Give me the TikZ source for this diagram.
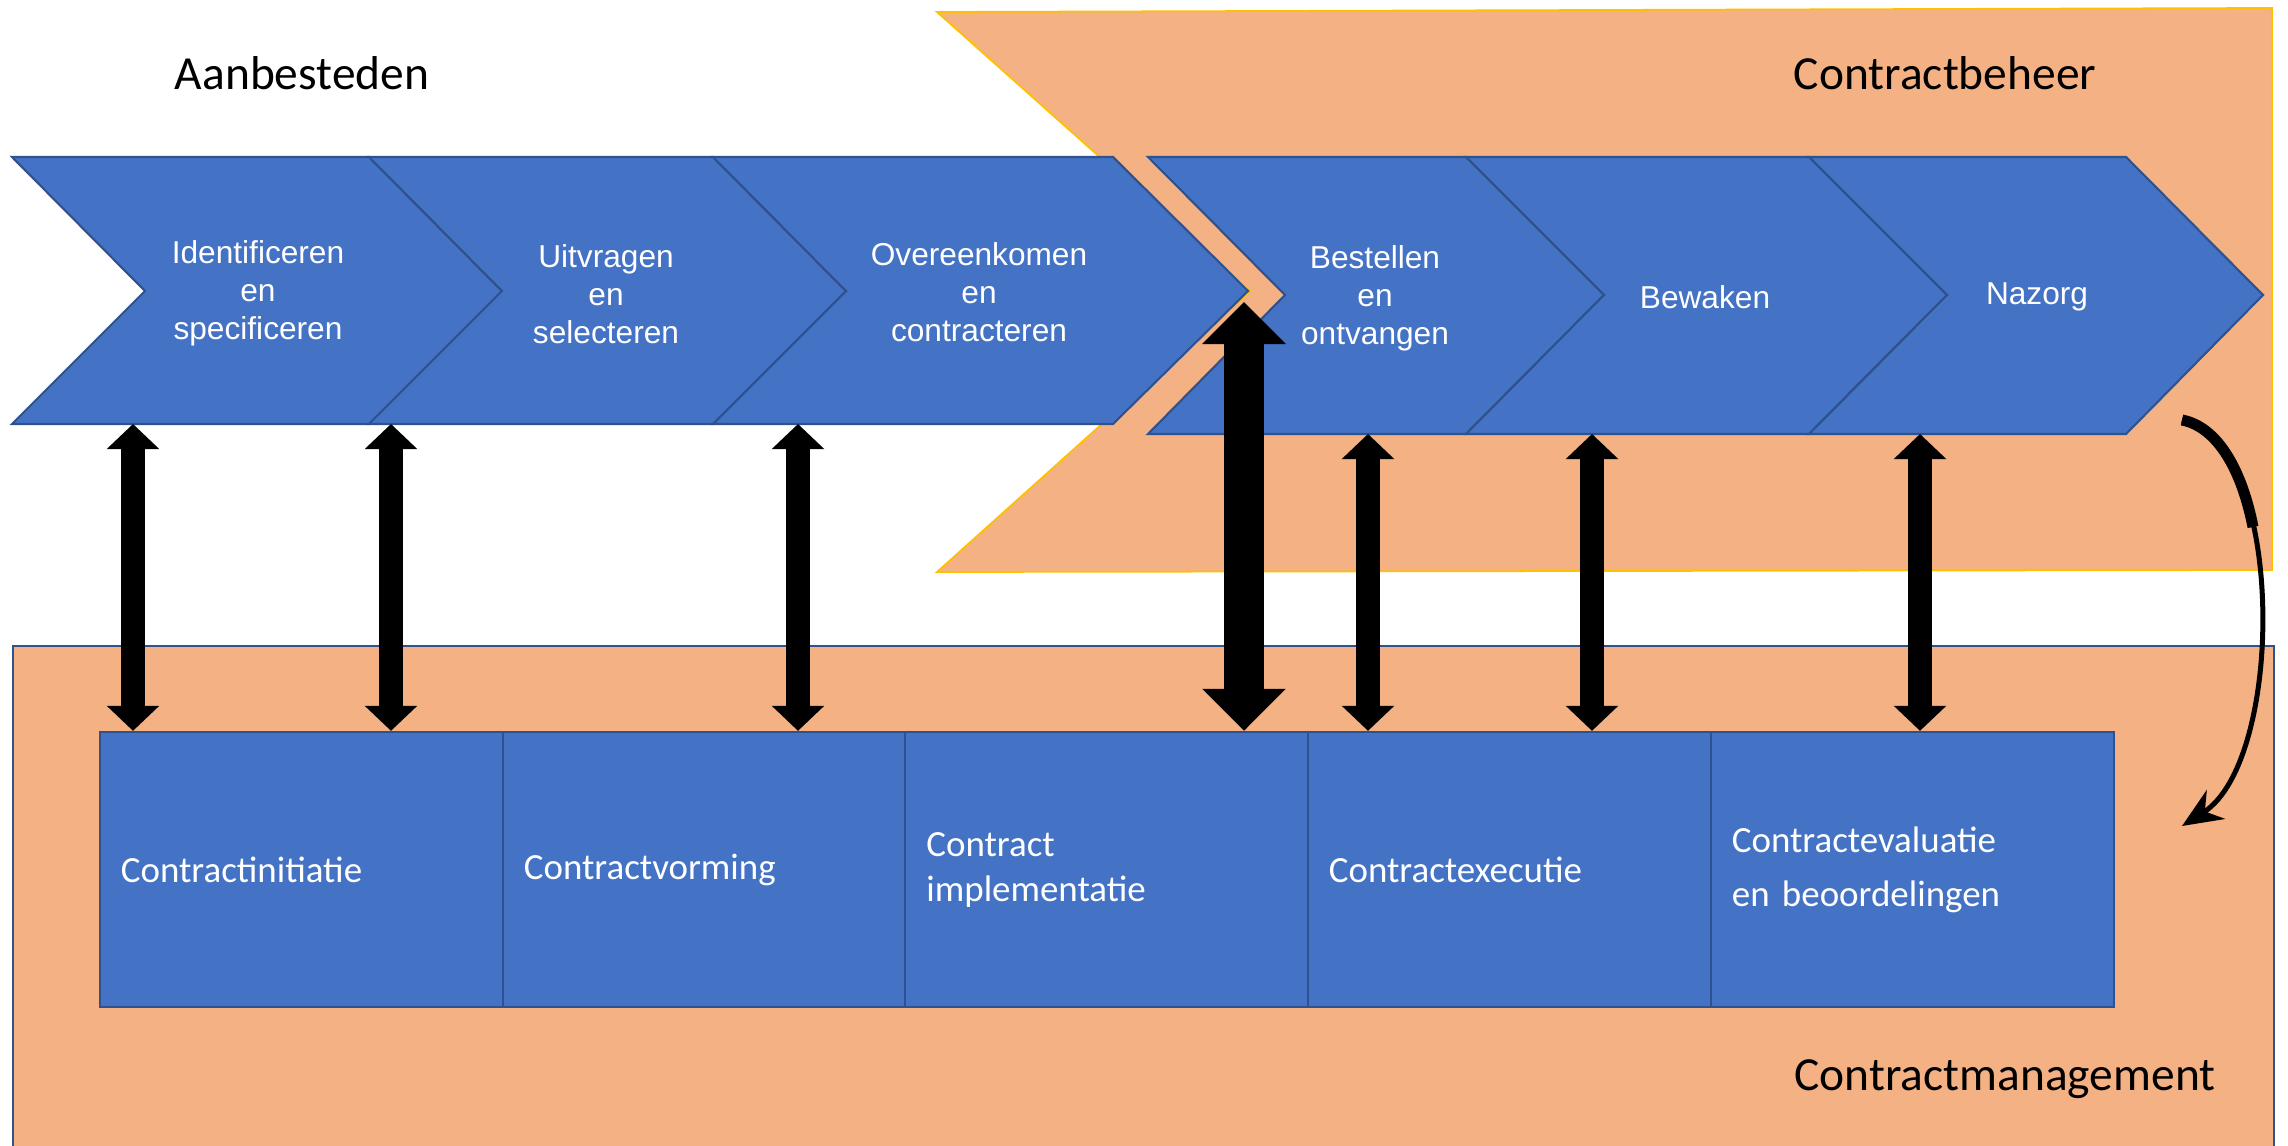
\documentclass[tikz,border=0pt]{standalone}
\usepackage{fontspec}
\setmainfont{Carlito}
\newfontfamily\arialfont{Liberation Sans}
\usetikzlibrary{arrows.meta}
\definecolor{oranje}{HTML}{F4B183}
\definecolor{goud}{HTML}{FFC000}
\definecolor{blauw}{HTML}{4472C4}
\definecolor{donkerblauw}{HTML}{2F528F}
\begin{document}
\begin{tikzpicture}[x=0.01cm,y=-0.01cm,
  chevron/.style={fill=blauw, draw=donkerblauw, line width=0.6pt},
  fase/.style={text=white, font=\arialfont\fontsize{9}{10.8}\selectfont, align=center, inner sep=0pt},
  blok/.style={rectangle, fill=blauw, draw=donkerblauw, line width=0.6pt, minimum width=4.03cm, minimum height=2.75cm, text width=3.61cm, inner xsep=0.21cm, align=left, text=white, font=\fontsize{10.5}{12.8}\selectfont},
  titel/.style={font=\fontsize{13.5}{16}\selectfont, inner sep=0pt},
  dubbel/.style={line width=0.24cm, {Triangle[width=0.51cm,length=0.25cm]}-{Triangle[width=0.51cm,length=0.25cm]}},
  dikdubbel/.style={line width=0.40cm, {Triangle[width=0.81cm,length=0.42cm]}-{Triangle[width=0.81cm,length=0.42cm]}}]
\useasboundingbox (0,0) rectangle (2288,1146);
\clip (0,0) rectangle (2288,1146);
\draw[fill=oranje, draw=goud, line width=0.5pt] (937,12) -- (2272,8) -- (2272,570) -- (937,572) -- (1250,291) -- cycle;
\draw[fill=oranje, draw=donkerblauw, line width=0.6pt] (13,646) rectangle (2274,1170);
\foreach \a/\b/\c/\d in {12/145/369/502, 369/502/713/846, 713/846/1113/1248}
  \draw[chevron] (\a,157) -- (\c,157) -- (\d,291) -- (\c,424) -- (\a,424) -- (\b,291) -- cycle;
\foreach \a/\b/\c/\d in {1148/1285/1466/1604, 1466/1604/1809/1947, 1809/1947/2126/2263}
  \draw[chevron] (\a,157) -- (\c,157) -- (\d,295) -- (\c,434) -- (\a,434) -- (\b,295) -- cycle;
\node[titel] (aanb) at (302,73) {Aanbesteden};
\node[titel] (beheer) at (1945,73) {Contractbeheer};
\node[titel] (cm) at (2005,1079) {Contractmanagement};
\node[fase] (f1) at (258,293) {Identificeren\\en\\specificeren};
\node[fase] (f2) at (606,294) {Uitvragen\\en\\selecteren};
\node[fase] (f3) at (979,292) {Overeenkomen\\en\\contracteren};
\node[fase] (f4) at (1375,298) {Bestellen\\en\\ontvangen};
\node[fase] (f5) at (1705,297) {Bewaken};
\node[fase] (f6) at (2037,297) {Nazorg};
\node[blok] (b1) at (301.5,869.5) {Contractinitiatie};
\node[blok] (b2) at (704.5,869.5) {Contractvorming};
\node[blok] (b3) at (1107,869.5) {Contract\\implementatie};
\node[blok] (b4) at (1509.5,869.5) {Contractexecutie};
\node[blok] (b5) at (1912.5,869.5) {Contractevaluatie\\[2.6pt]en beoordelingen};
\coordinate (t1) at (133,424);
\coordinate (t2) at (391,424);
\coordinate (t3) at (798,424);
\coordinate (t4) at (1244,302);
\coordinate (t5) at (1368,434);
\coordinate (t6) at (1592,434);
\coordinate (t7) at (1920,434);
\draw[dubbel] (t1) -- (t1 |- b1.north);
\draw[dubbel] (t2) -- (t2 |- b1.north);
\draw[dubbel] (t3) -- (t3 |- b2.north);
\draw[dikdubbel] (t4) -- (t4 |- b3.north);
\draw[dubbel] (t5) -- (t5 |- b4.north);
\draw[dubbel] (t6) -- (t6 |- b4.north);
\draw[dubbel] (t7) -- (t7 |- b5.north);
\coordinate (nz) at (2182,420);
\coordinate (ev) at (2182,826);
\draw[line width=0.11cm] (nz) .. controls (2218,427) and (2242,471) .. (2253,527);
\draw[line width=0.05cm, -{Stealth[length=0.4cm,width=0.34cm]}] (nz) .. controls (2286,440) and (2286,760) .. (ev);
\end{tikzpicture}
\end{document}
